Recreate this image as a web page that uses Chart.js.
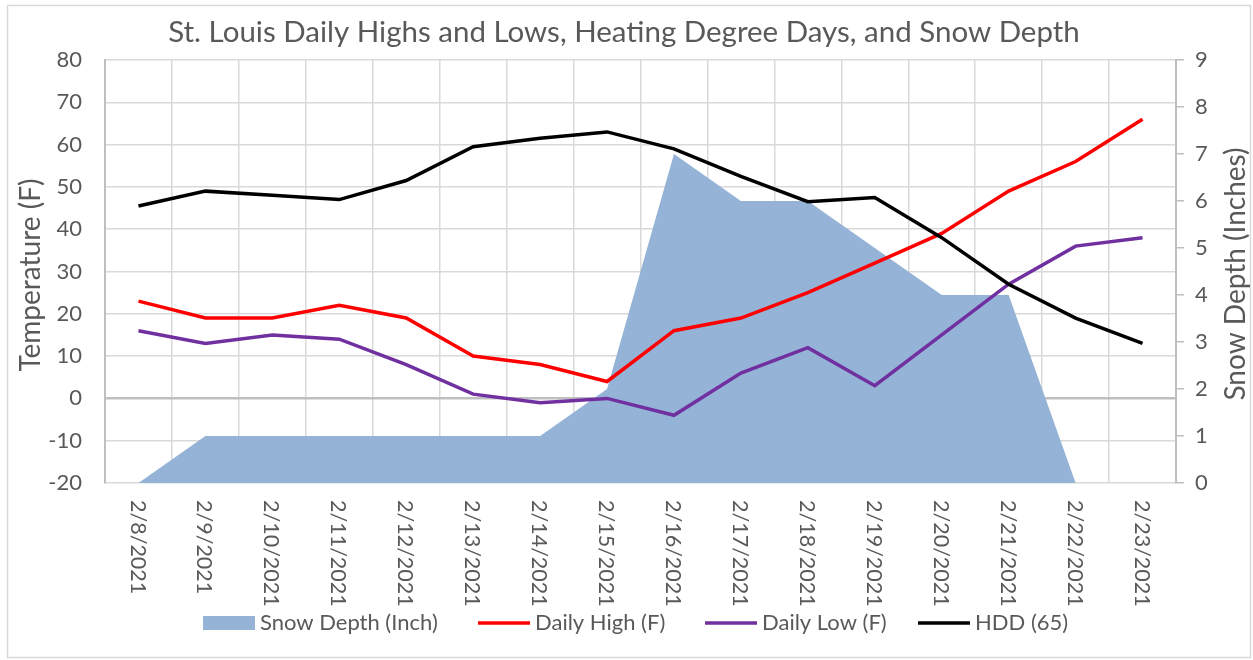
<!DOCTYPE html>
<html>
<head>
<meta charset="utf-8">
<script src="https://cdn.jsdelivr.net/npm/chart.js@4.4.1/dist/chart.umd.min.js"></script>
<style>
html,body{margin:0;padding:0;background:#fff;}
canvas{display:block;}
</style>
</head>
<body>
<canvas id="c" width="1253" height="660"></canvas>
<script>
const categories = ["2/8/2021","2/9/2021","2/10/2021","2/11/2021","2/12/2021","2/13/2021","2/14/2021","2/15/2021","2/16/2021","2/17/2021","2/18/2021","2/19/2021","2/20/2021","2/21/2021","2/22/2021","2/23/2021"];
const snowDepth = [0,1,1,1,1,1,1,2,7,6,6,5,4,4,0,0];
const dailyHigh = [23,19,19,22,19,10,8,4,16,19,25,32,39,49,56,66];
const dailyLow  = [16,13,15,14,8,1,-1,0,-4,6,12,3,15,27,36,38];
const hdd65     = [45.5,49,48,47,51.5,59.5,61.5,63,59,52.5,46.5,47.5,38,27,19,13];
const tempTicks = [-20,-10,0,10,20,30,40,50,60,70,80];
const snowTicks = [0,1,2,3,4,5,6,7,8,9];

const FONT = "Lato, 'Open Sans', sans-serif";
const TXT = '#595959';

const legendItems = [
  {label:'Snow Depth (Inch)', color:'#95B3D7', box:true,  x:203},
  {label:'Daily High (F)',   color:'#FF0000', box:false, x:478},
  {label:'Daily Low (F)',    color:'#7030A0', box:false, x:705},
  {label:'HDD (65)',         color:'#000000', box:false, x:918}
];

const decor = {
  id:'decor',
  beforeDraw(chart){
    const ctx = chart.ctx;
    ctx.save();
    ctx.fillStyle = '#fff';
    ctx.fillRect(0,0,chart.width,chart.height);
    ctx.strokeStyle = '#D9D9D9';
    ctx.lineWidth = 1.5;
    ctx.strokeRect(7.5,5.5,1243,652);
    ctx.restore();
  },
  afterDraw(chart){
    const ctx = chart.ctx;
    const x = chart.scales.x;
    ctx.save();
    // title
    ctx.fillStyle = TXT;
    ctx.font = "29.5px " + FONT;
    ctx.textAlign = 'center';
    ctx.textBaseline = 'middle';
    ctx.fillText('St. Louis Daily Highs and Lows, Heating Degree Days, and Snow Depth', 624, 32);
    // axis titles
    ctx.font = "28px " + FONT;
    ctx.save();
    ctx.translate(31, 275);
    ctx.rotate(-Math.PI/2);
    ctx.fillText('Temperature (F)', 0, 0);
    ctx.restore();
    ctx.save();
    ctx.translate(1236, 274);
    ctx.rotate(-Math.PI/2);
    ctx.fillText('Snow Depth (Inches)', 0, 0);
    ctx.restore();
    // x labels rotated clockwise
    ctx.font = "21.5px " + FONT;
    ctx.textAlign = 'left';
    ctx.textBaseline = 'middle';
    categories.forEach((c,i)=>{
      const px = x.getPixelForValue(i);
      ctx.save();
      ctx.translate(px-1, 500);
      ctx.rotate(Math.PI/2);
      ctx.fillText(c, 0, 0);
      ctx.restore();
    });
    // legend
    ctx.font = "22px " + FONT;
    ctx.textAlign = 'left';
    ctx.textBaseline = 'middle';
    const ly = 623;
    legendItems.forEach(it=>{
      if(it.box){
        ctx.fillStyle = it.color;
        ctx.fillRect(it.x, ly-7, 52, 14);
      } else {
        ctx.strokeStyle = it.color;
        ctx.lineWidth = 3.5;
        ctx.beginPath();
        ctx.moveTo(it.x, ly);
        ctx.lineTo(it.x+52, ly);
        ctx.stroke();
      }
      ctx.fillStyle = TXT;
      ctx.fillText(it.label, it.x+57, ly);
    });
    ctx.restore();
  }
};

new Chart(document.getElementById('c'), {
  type:'line',
  data:{
    labels: categories,
    datasets:[
      {label:'Snow Depth (Inch)', data:snowDepth, yAxisID:'y2', fill:'origin', backgroundColor:'#95B3D7', borderColor:'#95B3D7', borderWidth:0, pointRadius:0, tension:0, order:4},
      {label:'Daily High (F)', data:dailyHigh, yAxisID:'y', borderColor:'#FF0000', borderWidth:3.5, pointRadius:0, fill:false, tension:0, order:3},
      {label:'Daily Low (F)', data:dailyLow, yAxisID:'y', borderColor:'#7030A0', borderWidth:3.5, pointRadius:0, fill:false, tension:0, order:2},
      {label:'HDD (65)', data:hdd65, yAxisID:'y', borderColor:'#000000', borderWidth:3.5, pointRadius:0, fill:false, tension:0, order:1}
    ]
  },
  options:{
    responsive:false,
    animation:false,
    layout:{padding:{top:60,left:0,right:0,bottom:0}},
    plugins:{legend:{display:false}, title:{display:false}, tooltip:{enabled:false}},
    scales:{
      x:{
        type:'category',
        offset:true,
        grid:{offset:true, color:'#D9D9D9', lineWidth:1.5, drawTicks:false},
        border:{display:false},
        ticks:{display:false},
        afterFit(s){ s.height = 177; }
      },
      y:{
        position:'left',
        min:-20, max:80,
        afterBuildTicks(s){ s.ticks = tempTicks.map(v=>({value:v})); },
        ticks:{color:TXT, font:{family:FONT, size:22}, padding:23},
        grid:{
          drawTicks:false,
          color:(c)=> c.tick && c.tick.value===0 ? '#BFBFBF' : '#D9D9D9',
          lineWidth:(c)=> c.tick && c.tick.value===0 ? 2.5 : 1.5
        },
        border:{color:'#BFBFBF', width:2},
        afterFit(s){ s.width = 105; }
      },
      y2:{
        position:'right',
        min:0, max:9,
        afterBuildTicks(s){ s.ticks = snowTicks.map(v=>({value:v})); },
        ticks:{color:TXT, font:{family:FONT, size:22}, padding:11},
        grid:{drawOnChartArea:false, drawTicks:true, tickLength:8, color:'#BFBFBF', lineWidth:1.5},
        border:{color:'#BFBFBF', width:2},
        afterFit(s){ s.width = 77; }
      }
    }
  },
  plugins:[decor]
});
</script>
</body>
</html>
